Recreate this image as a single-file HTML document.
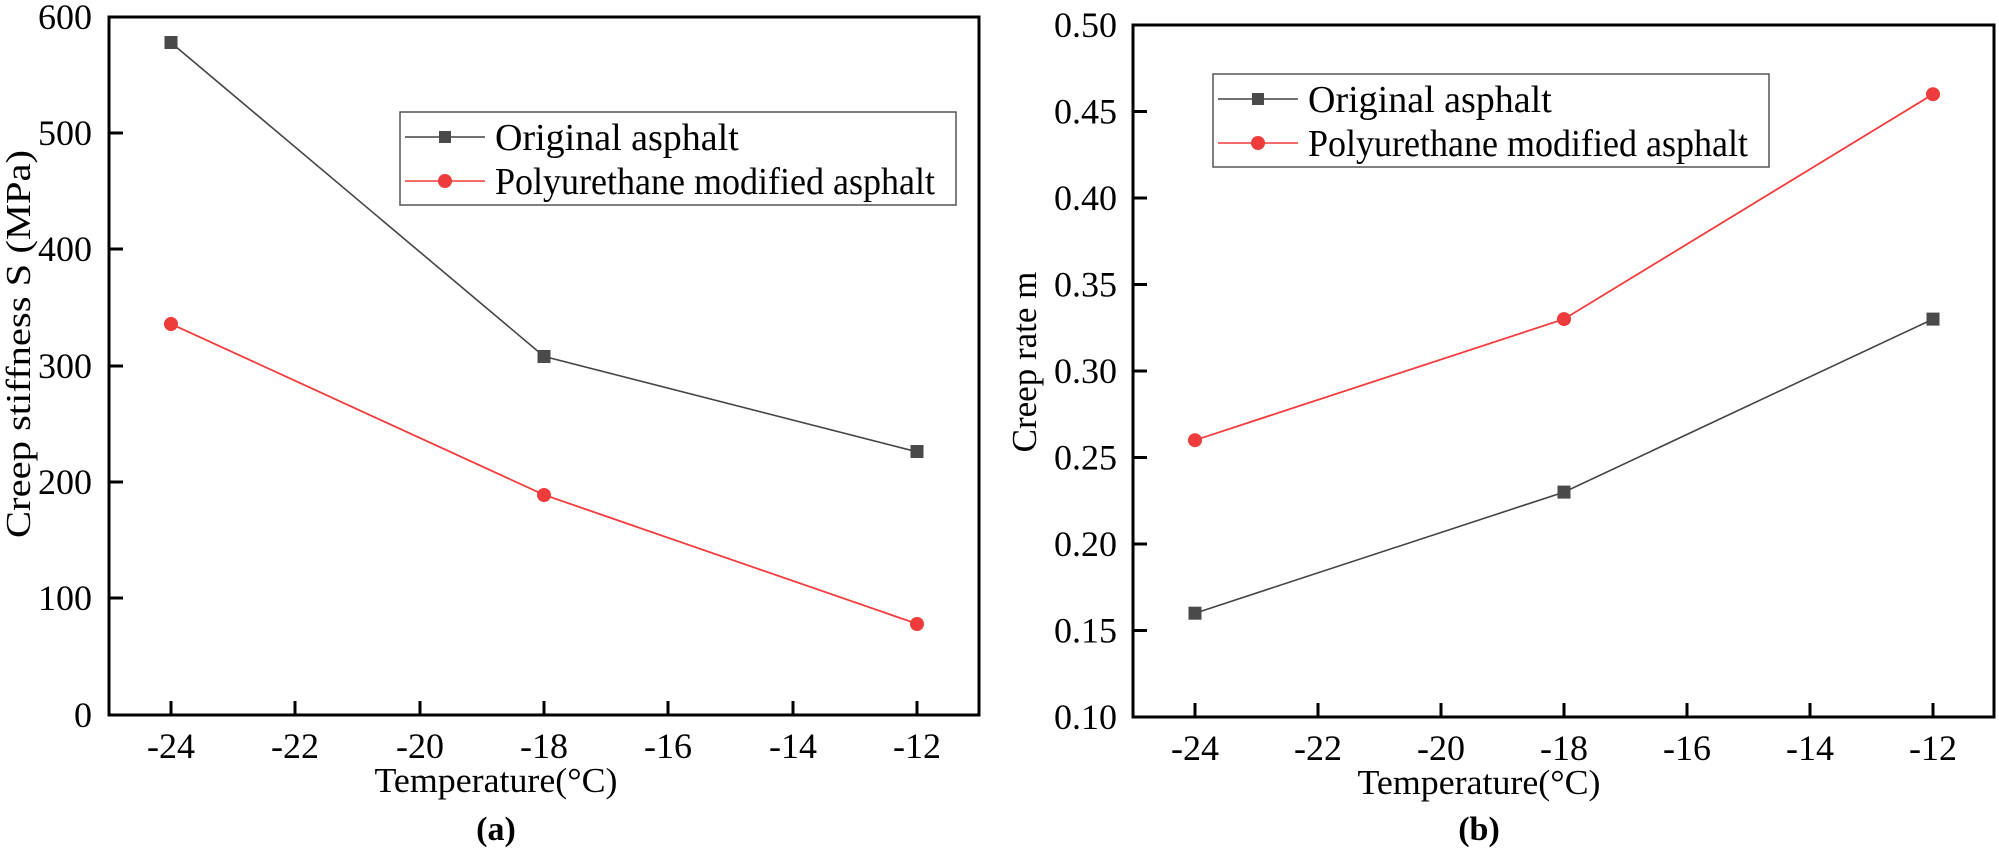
<!DOCTYPE html>
<html><head><meta charset="utf-8"><style>html,body{margin:0;padding:0;background:#fff}svg{display:block}svg text{font-family:"Liberation Serif",serif}</style></head>
<body>
<svg width="1999" height="855" viewBox="0 0 1999 855" xmlns="http://www.w3.org/2000/svg" style="font-family:'Liberation Serif',serif" fill="#000">
<!-- LEFT PLOT -->
<rect x="109" y="17" width="870" height="698" fill="none" stroke="#000" stroke-width="3"/>
<g stroke="#000" stroke-width="3">
<line x1="109" y1="133" x2="123" y2="133"/><line x1="109" y1="249" x2="123" y2="249"/>
<line x1="109" y1="366" x2="123" y2="366"/><line x1="109" y1="482" x2="123" y2="482"/>
<line x1="109" y1="598" x2="123" y2="598"/>
<line x1="171" y1="715" x2="171" y2="701"/><line x1="295" y1="715" x2="295" y2="701"/>
<line x1="420" y1="715" x2="420" y2="701"/><line x1="544" y1="715" x2="544" y2="701"/>
<line x1="668" y1="715" x2="668" y2="701"/><line x1="793" y1="715" x2="793" y2="701"/>
<line x1="917" y1="715" x2="917" y2="701"/>
</g>
<g font-size="36" text-anchor="end">
<text x="92" y="29">600</text><text x="92" y="145">500</text><text x="92" y="261">400</text>
<text x="92" y="378">300</text><text x="92" y="494">200</text><text x="92" y="610">100</text><text x="92" y="727">0</text>
</g>
<g font-size="36" text-anchor="middle">
<text x="171" y="758">-24</text><text x="295" y="758">-22</text><text x="420" y="758">-20</text>
<text x="544" y="758">-18</text><text x="668" y="758">-16</text><text x="793" y="758">-14</text><text x="917" y="758">-12</text>
</g>
<text x="496" y="792" font-size="35" text-anchor="middle" textLength="243" lengthAdjust="spacingAndGlyphs">Temperature(°C)</text>
<text x="496" y="840" font-size="34" font-weight="bold" text-anchor="middle">(a)</text>
<text transform="translate(30,344) rotate(-90)" font-size="35" text-anchor="middle" textLength="388" lengthAdjust="spacingAndGlyphs">Creep stiffness S (MPa)</text>
<polyline points="171,42.6 544,356.4 917,451.8" fill="none" stroke="#444" stroke-width="1.6"/>
<polyline points="171,323.9 544,494.8 917,623.8" fill="none" stroke="#f23c3c" stroke-width="1.8"/>
<g fill="#4a4a4a"><rect x="164.5" y="36" width="13" height="13"/><rect x="537.5" y="350" width="13" height="13"/><rect x="910.5" y="445" width="13" height="13"/></g>
<g fill="#ee3b3b"><circle cx="171" cy="324" r="7"/><circle cx="544" cy="495" r="7"/><circle cx="917" cy="624" r="7"/></g>
<rect x="400" y="112" width="556" height="93" fill="none" stroke="#555" stroke-width="1.5"/>
<line x1="405" y1="137" x2="485" y2="137" stroke="#444" stroke-width="1.6"/><rect x="439" y="131" width="12" height="12" fill="#4a4a4a"/>
<line x1="405" y1="181" x2="485" y2="181" stroke="#f23c3c" stroke-width="1.6"/><circle cx="445" cy="181" r="7" fill="#ee3b3b"/>
<text x="495" y="150" font-size="38">Original asphalt</text>
<text x="495" y="194" font-size="38" textLength="440" lengthAdjust="spacingAndGlyphs">Polyurethane modified asphalt</text>

<!-- RIGHT PLOT -->
<rect x="1133" y="25" width="861" height="692" fill="none" stroke="#000" stroke-width="3"/>
<g stroke="#000" stroke-width="3">
<line x1="1133" y1="111.5" x2="1147" y2="111.5"/><line x1="1133" y1="198" x2="1147" y2="198"/>
<line x1="1133" y1="284.5" x2="1147" y2="284.5"/><line x1="1133" y1="371" x2="1147" y2="371"/>
<line x1="1133" y1="457.5" x2="1147" y2="457.5"/><line x1="1133" y1="544" x2="1147" y2="544"/>
<line x1="1133" y1="630.5" x2="1147" y2="630.5"/>
<line x1="1195" y1="717" x2="1195" y2="703"/><line x1="1318" y1="717" x2="1318" y2="703"/>
<line x1="1441" y1="717" x2="1441" y2="703"/><line x1="1564" y1="717" x2="1564" y2="703"/>
<line x1="1687" y1="717" x2="1687" y2="703"/><line x1="1810" y1="717" x2="1810" y2="703"/>
<line x1="1933" y1="717" x2="1933" y2="703"/>
</g>
<g font-size="36" text-anchor="end">
<text x="1117" y="37">0.50</text><text x="1117" y="123.5">0.45</text><text x="1117" y="210">0.40</text>
<text x="1117" y="296.5">0.35</text><text x="1117" y="383">0.30</text><text x="1117" y="469.5">0.25</text>
<text x="1117" y="556">0.20</text><text x="1117" y="642.5">0.15</text><text x="1117" y="729">0.10</text>
</g>
<g font-size="36" text-anchor="middle">
<text x="1195" y="760">-24</text><text x="1318" y="760">-22</text><text x="1441" y="760">-20</text>
<text x="1564" y="760">-18</text><text x="1687" y="760">-16</text><text x="1810" y="760">-14</text><text x="1933" y="760">-12</text>
</g>
<text x="1479" y="794" font-size="35" text-anchor="middle" textLength="243" lengthAdjust="spacingAndGlyphs">Temperature(°C)</text>
<text x="1479" y="840" font-size="34" font-weight="bold" text-anchor="middle">(b)</text>
<text transform="translate(1036,362) rotate(-90)" font-size="35" text-anchor="middle">Creep rate m</text>
<polyline points="1195,613.2 1564,492.1 1933,319.1" fill="none" stroke="#444" stroke-width="1.6"/>
<polyline points="1195,440.2 1564,319.1 1933,94.2" fill="none" stroke="#f23c3c" stroke-width="1.8"/>
<g fill="#4a4a4a"><rect x="1188.5" y="606.7" width="13" height="13"/><rect x="1557.5" y="485.6" width="13" height="13"/><rect x="1926.5" y="312.6" width="13" height="13"/></g>
<g fill="#ee3b3b"><circle cx="1195" cy="440.2" r="7"/><circle cx="1564" cy="319.1" r="7"/><circle cx="1933" cy="94.2" r="7"/></g>
<rect x="1213" y="74" width="556" height="93" fill="none" stroke="#555" stroke-width="1.5"/>
<line x1="1218" y1="99" x2="1298" y2="99" stroke="#444" stroke-width="1.6"/><rect x="1252" y="93" width="12" height="12" fill="#4a4a4a"/>
<line x1="1218" y1="143" x2="1298" y2="143" stroke="#f23c3c" stroke-width="1.6"/><circle cx="1258" cy="143" r="7" fill="#ee3b3b"/>
<text x="1308" y="112" font-size="38">Original asphalt</text>
<text x="1308" y="156" font-size="38" textLength="440" lengthAdjust="spacingAndGlyphs">Polyurethane modified asphalt</text>
</svg>
</body></html>
